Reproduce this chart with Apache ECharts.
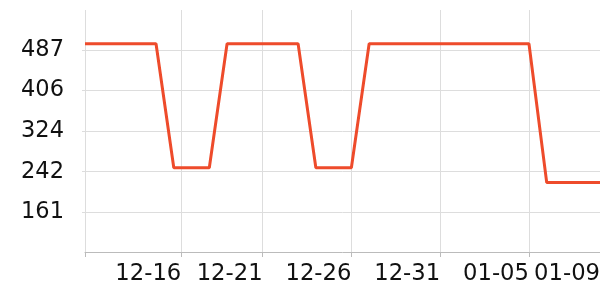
<!DOCTYPE html>
<html><head><meta charset="utf-8">
<script src="https://cdn.jsdelivr.net/npm/echarts@6/dist/echarts.min.js"></script>
<style>html,body{margin:0;padding:0;background:#fff}#c{width:600px;height:300px}</style>
</head><body><div id="c"></div>
<script>
// Dates (daily), 2023-12-11 .. 2024-01-09
const dates = ['12-11','12-12','12-13','12-14','12-15','12-16','12-17','12-18','12-19','12-20',
  '12-21','12-22','12-23','12-24','12-25','12-26','12-27','12-28','12-29','12-30',
  '12-31','01-01','01-02','01-03','01-04','01-05','01-06','01-07','01-08','01-09'];
const values = [500,500,500,500,500,250,250,250,500,500,
  500,500,500,250,250,250,500,500,500,500,
  500,500,500,500,500,500,220,220,220,220];
// x tick positions (day index from first date) and their labels
const xTickPos = [0, 5.42, 10, 15, 20, 25];
const xLabelPos = [5.42, 10, 15, 20, 25, 29];
const xLabels = ['12-16','12-21','12-26','12-31','01-05','01-09'];
// y ticks
const yTicks = [161, 242, 324, 406, 487];
const yMin = 80, yMax = 568;

const font = 'DejaVu Sans';
const chart = echarts.init(document.getElementById('c'), null, {renderer: 'canvas'});
chart.setOption({
  animation: false,
  grid: {left: 85, top: 10, right: 0, bottom: 48, containLabel: false, outerBoundsMode: 'none'},
  xAxis: {
    type: 'value', min: 0, max: dates.length - 1,
    axisLine: {show: true, lineStyle: {color: '#bbbbbb', width: 1}},
    axisTick: {show: true, length: 5, customValues: xTickPos, lineStyle: {color: '#bbbbbb'}},
    splitLine: {show: true, lineStyle: {color: '#dddddd', width: 1}},
    axisLabel: {
      customValues: xLabelPos, margin: 11, align: 'right', hideOverlap: false,
      fontFamily: font, fontSize: 22.7, color: '#111',
      formatter: function (v) {
        const i = xLabelPos.findIndex(p => Math.abs(p - v) < 1e-6);
        return i >= 0 ? xLabels[i] : '';
      }
    }
  },
  yAxis: {
    type: 'value', min: yMin, max: yMax,
    axisLine: {show: false},
    axisTick: {show: true, length: 3, customValues: yTicks, lineStyle: {color: '#dddddd'}},
    splitLine: {show: true, lineStyle: {color: '#dddddd', width: 1}},
    axisLabel: {
      customValues: yTicks, margin: 21,
      fontFamily: font, fontSize: 22.5, color: '#111',
      formatter: function (v) { return String(v); }
    }
  },
  series: [{
    type: 'line',
    data: values.map((v, i) => [i, v]),
    showSymbol: false,
    lineStyle: {color: '#ee4b2b', width: 3},
    itemStyle: {color: '#ee4b2b'}
  }]
});
</script></body></html>
